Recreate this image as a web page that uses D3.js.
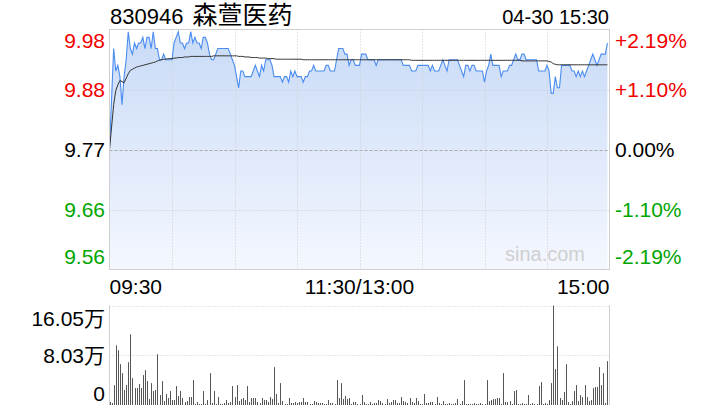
<!DOCTYPE html>
<html><head><meta charset="utf-8">
<script src="https://cdn.jsdelivr.net/npm/d3@7"></script>
<style>
body{margin:0;background:#fff}
svg{display:block}
text{font-family:"Liberation Sans",Arial,"Noto Sans CJK SC",sans-serif}
</style>
</head><body>
<svg id="c" width="720" height="420"></svg>
<script>
const stockCode = "830946";
const stockName = "森萱医药";
const stampText = "04-30 15:30";
const prevClose = 9.77;
const maxPct = 2.19;
const pctGrid = [2.19, 1.095, 0, -1.095, -2.19];
const priceTickLabels = ["9.98", "9.88", "9.77", "9.66", "9.56"];
const pctTickLabels = ["+2.19%", "+1.10%", "0.00%", "-1.10%", "-2.19%"];
const timeLabels = ["09:30", "11:30/13:00", "15:00"];
const timeLabelMinutes = [0, 120, 240];
const gridMinutes = [30, 60, 90, 120, 150, 180, 210];
const volTickLabels = ["16.05万", "8.03万", "0"];
const volTickFrac = [1, 0.5, 0];
const totalMinutes = 240;

const prices = [
9.77,9.86,9.95,9.91,9.92,9.90,9.85,9.90,9.93,9.98,
9.95,9.94,9.96,9.95,9.96,9.96,9.97,9.95,9.97,9.97,
9.95,9.98,9.95,9.95,9.93,9.93,9.94,9.93,9.93,9.93,
9.93,9.96,9.97,9.98,9.96,9.96,9.95,9.96,9.96,9.98,
9.96,9.97,9.96,9.96,9.95,9.97,9.97,9.96,9.94,9.93,
9.93,9.94,9.95,9.95,9.95,9.95,9.95,9.95,9.94,9.93,
9.92,9.90,9.88,9.91,9.91,9.90,9.90,9.90,9.90,9.91,
9.92,9.91,9.90,9.92,9.91,9.93,9.93,9.93,9.92,9.90,
9.90,9.90,9.90,9.89,9.90,9.90,9.89,9.91,9.90,9.91,
9.90,9.90,9.90,9.89,9.90,9.90,9.91,9.91,9.92,9.91,
9.91,9.91,9.91,9.91,9.92,9.92,9.91,9.91,9.91,9.93,
9.95,9.95,9.95,9.94,9.94,9.92,9.93,9.93,9.92,9.92,
9.92,9.94,9.94,9.94,9.93,9.93,9.93,9.93,9.92,9.93,
9.93,9.93,9.93,9.93,9.93,9.93,9.93,9.93,9.93,9.93,
9.93,9.92,9.92,9.92,9.92,9.91,9.91,9.91,9.92,9.92,
9.92,9.92,9.92,9.92,9.91,9.92,9.91,9.91,9.91,9.92,
9.93,9.92,9.91,9.93,9.93,9.93,9.93,9.93,9.92,9.91,
9.90,9.92,9.92,9.91,9.92,9.92,9.91,9.91,9.91,9.91,
9.89,9.91,9.92,9.94,9.92,9.92,9.92,9.92,9.90,9.91,
9.91,9.91,9.92,9.92,9.93,9.94,9.93,9.93,9.94,9.94,
9.93,9.93,9.93,9.93,9.93,9.93,9.91,9.91,9.91,9.91,
9.92,9.91,9.87,9.87,9.90,9.88,9.88,9.92,9.92,9.92,
9.92,9.92,9.91,9.91,9.90,9.91,9.90,9.91,9.90,9.91,
9.92,9.93,9.94,9.93,9.92,9.93,9.94,9.94,9.94,9.96
];

const avgPrices = [
9.770,9.810,9.850,9.875,9.885,9.893,9.891,9.889,9.897,9.905,
9.911,9.913,9.915,9.917,9.918,9.919,9.920,9.921,9.922,9.923,
9.924,9.925,9.926,9.928,9.929,9.930,9.931,9.931,9.932,9.932,
9.932,9.933,9.933,9.934,9.934,9.934,9.935,9.935,9.935,9.936,
9.936,9.936,9.936,9.936,9.936,9.936,9.936,9.936,9.936,9.936,
9.937,9.937,9.937,9.937,9.937,9.937,9.937,9.937,9.937,9.937,
9.937,9.937,9.936,9.936,9.936,9.935,9.935,9.935,9.934,9.934,
9.934,9.934,9.933,9.933,9.933,9.933,9.932,9.932,9.932,9.932,
9.931,9.931,9.931,9.931,9.931,9.931,9.931,9.931,9.931,9.931,
9.931,9.931,9.931,9.930,9.930,9.930,9.930,9.930,9.930,9.930,
9.930,9.930,9.930,9.930,9.930,9.930,9.930,9.930,9.930,9.930,
9.930,9.930,9.930,9.930,9.930,9.930,9.930,9.930,9.930,9.930,
9.930,9.930,9.930,9.930,9.930,9.930,9.930,9.930,9.930,9.930,
9.930,9.930,9.930,9.930,9.930,9.930,9.930,9.930,9.930,9.930,
9.930,9.930,9.930,9.930,9.930,9.929,9.929,9.929,9.929,9.929,
9.929,9.929,9.929,9.929,9.929,9.929,9.929,9.929,9.929,9.929,
9.929,9.929,9.929,9.929,9.929,9.929,9.929,9.929,9.929,9.929,
9.929,9.929,9.929,9.929,9.929,9.929,9.929,9.929,9.929,9.929,
9.929,9.929,9.929,9.929,9.929,9.929,9.929,9.929,9.929,9.929,
9.929,9.929,9.929,9.929,9.929,9.929,9.929,9.929,9.928,9.928,
9.928,9.928,9.928,9.928,9.928,9.928,9.928,9.928,9.928,9.928,
9.928,9.927,9.926,9.923,9.922,9.921,9.921,9.921,9.921,9.921,
9.921,9.921,9.921,9.921,9.921,9.921,9.921,9.921,9.921,9.921,
9.921,9.921,9.921,9.921,9.921,9.921,9.921,9.921,9.921,9.921
];

// volume in lots (手)
const volumes = [
48,32,321,963,883,658,514,241,321,690,
1140,433,273,273,337,273,482,562,385,96,
353,225,241,819,161,385,64,177,112,225,
80,80,305,144,225,112,48,64,128,128,
401,16,48,16,16,225,16,80,514,32,
225,16,128,16,16,32,80,32,48,305,
128,321,64,96,112,80,305,48,112,112,
112,48,32,112,80,80,48,128,96,610,
177,32,353,64,16,16,112,32,32,48,
32,48,48,112,48,48,16,16,64,48,
32,32,32,16,16,80,32,32,16,401,
112,353,96,144,96,112,16,48,48,16,
16,161,48,16,16,48,16,32,32,80,
64,32,16,96,32,48,80,80,32,32,
128,64,48,32,112,48,32,112,64,16,
16,177,32,32,48,48,16,128,32,16,
64,16,16,32,16,16,32,96,16,64,
401,16,16,16,16,32,16,16,32,16,
16,401,64,80,96,96,112,112,16,514,
48,48,64,16,225,241,16,16,32,16,
16,161,16,32,16,16,305,369,16,32,
16,80,353,1605,578,947,112,80,209,658,
48,16,64,225,321,64,161,128,321,128,
64,80,273,289,289,610,321,514,32,706
];
const volMax = 1605;

const svg = d3.select("#c");
const L = 109.5, R = 609.5, T = 29.5, B = 269.5;
const VT = 305.5, VB = 405;
const red = "#f20000", green = "#00a600", black = "#000";
const labelColors = [red, red, black, green, green];

const x = d3.scaleLinear().domain([0, totalMinutes]).range([L, R]);
const y = d3.scaleLinear().domain([prevClose * (1 - maxPct / 100), prevClose * (1 + maxPct / 100)]).range([B, T]);
const yv = d3.scaleLinear().domain([0, volMax]).range([VB, VT]);

const defs = svg.append("defs");
const grad = defs.append("linearGradient").attr("id", "g").attr("x1", 0).attr("y1", 0).attr("x2", 0).attr("y2", 1);
grad.append("stop").attr("offset", "0%").attr("stop-color", "#c9dbf7");
grad.append("stop").attr("offset", "100%").attr("stop-color", "#f4f7fe");

// Title / stamp
const title = svg.append("text").attr("x", 110).attr("y", 24).attr("font-size", 22).attr("fill", "#000");
title.append("tspan").text(stockCode + " ");
title.append("tspan").attr("dx", 3).attr("font-size", 25).text(stockName);
svg.append("text").attr("x", 609).attr("y", 24).attr("font-size", 20).attr("text-anchor", "end").attr("fill", "#000").text(stampText);

const pts = prices.map((p, i) => ({i, p}));
svg.append("path").datum(pts)
  .attr("d", d3.area().x(d => x(d.i)).y0(B).y1(d => y(d.p)))
  .attr("fill", "url(#g)");

pctGrid.forEach((p, k) => {
  if (k === 0 || k === pctGrid.length - 1) return;
  const yy = Math.round(y(prevClose * (1 + p / 100))) + 0.5;
  svg.append("line").attr("x1", L).attr("x2", R).attr("y1", yy).attr("y2", yy)
    .attr("stroke", p === 0 ? "#aaa" : "#ccc").attr("stroke-dasharray", p === 0 ? "3,2" : "1,2");
});
gridMinutes.forEach(m => {
  const xx = Math.round(x(m)) + 0.5;
  svg.append("line").attr("x1", xx).attr("x2", xx).attr("y1", T).attr("y2", B)
    .attr("stroke", "#ccc").attr("stroke-dasharray", "1,2");
});

svg.append("text").attr("x", 585).attr("y", 261).attr("font-size", 20).attr("text-anchor", "end")
  .attr("fill", "#d0d0d0").text("sina.com");

svg.append("path").datum(pts)
  .attr("d", d3.line().x(d => x(d.i)).y(d => y(d.p)))
  .attr("fill", "none").attr("stroke", "#4a8cef").attr("stroke-width", 1.1);
svg.append("path").datum(avgPrices.map((p, i) => ({i, p})))
  .attr("d", d3.line().x(d => x(d.i)).y(d => y(d.p)))
  .attr("fill", "none").attr("stroke", "#333").attr("stroke-width", 1);

svg.append("rect").attr("x", L).attr("y", T).attr("width", R - L).attr("height", B - T)
  .attr("fill", "none").attr("stroke", "#cfcfcf");

pctGrid.forEach((p, k) => {
  const yy = y(prevClose * (1 + p / 100));
  let by;
  if (k === 0) by = yy + 18; else if (k === pctGrid.length - 1) by = yy - 6; else by = yy + 7.5;
  svg.append("text").attr("x", 105).attr("y", by).attr("font-size", 21).attr("text-anchor", "end")
    .attr("fill", labelColors[k]).text(priceTickLabels[k]);
  svg.append("text").attr("x", 615).attr("y", by).attr("font-size", 21).attr("text-anchor", "start")
    .attr("fill", labelColors[k]).text(pctTickLabels[k]);
});

timeLabels.forEach((t, k) => {
  const anchor = k === 0 ? "start" : k === timeLabels.length - 1 ? "end" : "middle";
  svg.append("text").attr("x", x(timeLabelMinutes[k])).attr("y", 294).attr("font-size", 21)
    .attr("text-anchor", anchor).attr("fill", "#000").text(t);
});

volTickFrac.forEach((f, k) => {
  const yy = Math.round(yv(volMax * f)) + 0.5;
  if (f > 0) {
    svg.append("line").attr("x1", L).attr("x2", R).attr("y1", yy).attr("y2", yy)
      .attr("stroke", "#ccc").attr("stroke-dasharray", "1,2");
  }
  let by;
  if (k === 0) by = yy + 19; else if (k === volTickFrac.length - 1) by = yy - 5; else by = yy + 7.5;
  svg.append("text").attr("x", 105).attr("y", by).attr("font-size", 21).attr("text-anchor", "end")
    .attr("fill", "#000").text(volTickLabels[k]);
});
svg.selectAll("line.vb").data(volumes).enter().append("line").attr("class", "vb")
  .attr("x1", (d, i) => Math.round(x(i)) + 0.5).attr("x2", (d, i) => Math.round(x(i)) + 0.5)
  .attr("y1", VB).attr("y2", d => yv(d))
  .attr("stroke", "#555").attr("stroke-width", 1);
svg.append("line").attr("x1", L).attr("x2", L).attr("y1", VT).attr("y2", VB).attr("stroke", "#cfcfcf");
svg.append("line").attr("x1", R).attr("x2", R).attr("y1", VT).attr("y2", VB).attr("stroke", "#cfcfcf");
</script>
</body></html>
